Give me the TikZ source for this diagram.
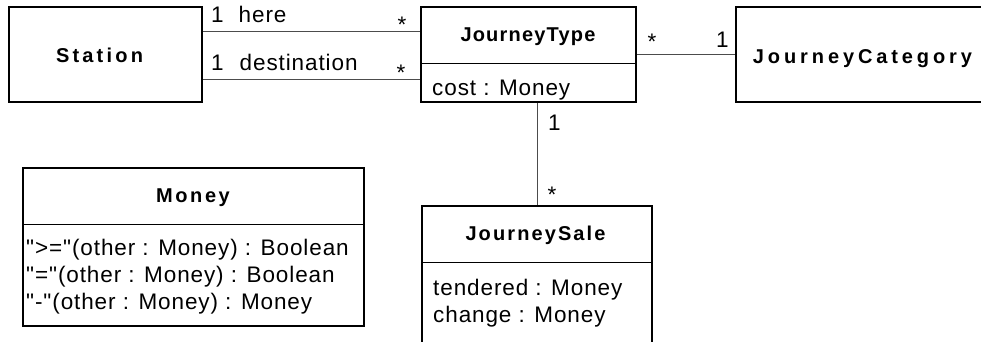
\documentclass[tikz,border=0pt]{standalone}
\usepackage{fontspec}
\setmainfont[Ligatures=TeXOff]{Liberation Sans}
\usepackage{tikz}

\tikzset{
  classbox/.style={draw, line width=1.6pt, inner sep=0pt},
  classname/.style={font=\fontsize{20}{24}\selectfont\bfseries\addfontfeature{LetterSpace=#1},
    anchor=base, inner sep=0pt},
  classname/.default=12,
  txt/.style={font=\fontsize{22.5}{27}\selectfont\addfontfeature{LetterSpace=4},
    anchor=base west, inner sep=0pt},
  divider/.style={line width=0.9pt},
  assoc/.style={draw=black!70, line width=0.9pt},
}

\begin{document}
\begin{tikzpicture}[x=1pt,y=-1pt]
\useasboundingbox (0,0) rectangle (981,341);
\clip (0,0) rectangle (981,341);

\begin{scope}[every node/.style={classbox}]
	\node[minimum width=193pt, minimum height=95pt] (station) at (105.5,54.5) {};
	\node[minimum width=215pt, minimum height=95pt] (jtype) at (528.5,54.5) {};
	\node[minimum width=254pt, minimum height=95pt] (jcat) at (863,54.5) {};
	\node[minimum width=341pt, minimum height=158pt] (money) at (193.5,247) {};
	\node[minimum width=230pt, minimum height=154pt] (jsale) at (537,283) {};
\end{scope}

\draw[divider] (jtype.west |- 0,63) -- (jtype.east |- 0,63);
\draw[divider] (money.west |- 0,224) -- (money.east |- 0,224);
\draw[divider] (jsale.west |- 0,262) -- (jsale.east |- 0,262);

% class names
\node[classname=16] (station-name) at (99.5,62.7) {Station};
\node[classname=6] (jtype-name) at (528,41.7) {JourneyType};
\node[classname=19.5] (jcat-name) at (862.5,63.3) {JourneyCategory};
\node[classname=13] (money-name) at (193,202.7) {Money};
\node[classname=10.5] (jsale-name) at (535.5,240) {JourneySale};

% attributes and operations
\node[txt] (jtype-cost) at (432,95) {cost : Money};
\node[txt] (money-ge) at (26,255) {">="(other : Money) : Boolean};
\node[txt] (money-eq) at (26,282) {"="(other : Money) : Boolean};
\node[txt] (money-minus) at (26,309) {"-"(other : Money) : Money};
\node[txt] (jsale-tendered) at (433,295) {tendered : Money};
\node[txt] (jsale-change) at (433,322) {change : Money};

% associations
\path[assoc] ([yshift=23.5pt]station.east) edge ([yshift=23.5pt]jtype.west);%here%
\path[assoc] ([yshift=-25pt]station.east) edge ([yshift=-25pt]jtype.west);%destination%
\path[assoc] (jtype.east) edge (jcat.west);
\path[assoc] (jtype.south -| jsale.north) edge (jsale.north);

% ends
\node[txt] (here-one) at (211,22) {1};
\node[txt] (here-role) at (238.5,22) {here};
\node[txt] (here-many) at (397.5,32.6) {*};
\node[txt] (dest-one) at (211,70) {1};
\node[txt] (dest-role) at (239.5,70) {destination};
\node[txt] (dest-many) at (396.5,80.6) {*};
\node[txt] (cat-many) at (647.5,49.1) {*};
\node[txt] (cat-one) at (716,47) {1};
\node[txt] (sale-one) at (548,130) {1};
\node[txt] (sale-many) at (547.5,202.6) {*};
\end{tikzpicture}
\end{document}
